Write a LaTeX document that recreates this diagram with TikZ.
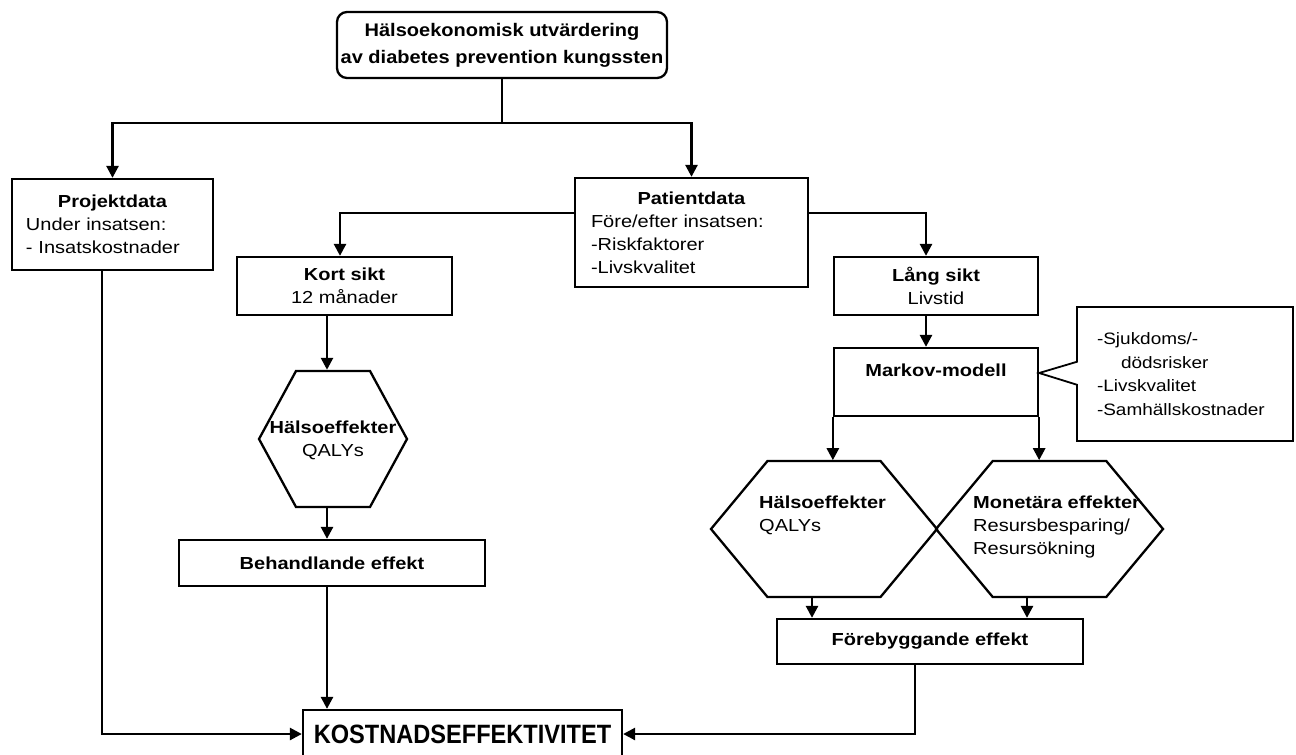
\documentclass[tikz,border=0pt]{standalone}
\usepackage{fontspec}
\setmainfont{Liberation Sans}[FakeStretch=1.15]
\newfontfamily\titlefont{Liberation Sans}[FakeStretch=1.1]
\newfontfamily\bigfont{Liberation Sans}[FakeStretch=0.89]
\usetikzlibrary{arrows.meta,shapes.geometric,shapes.callouts}
\newcommand{\centred}[1]{\hspace*{\fill}#1\hspace*{\fill}\null}
\tikzset{
  box/.style={draw, line width=2.3pt, inner sep=0pt, align=center},
  hexa/.style={draw, line width=2.3pt, regular polygon, regular polygon sides=6, inner sep=0pt, transform shape},
  note/.style={draw, line width=1.8pt, rectangle callout, inner sep=0pt, align=left},
  ln/.style={line width=2.6pt},
  arr/.style={line width=2.6pt, -{Triangle[length=12pt,width=12pt]}}
}
\begin{document}
\begin{tikzpicture}[x=1pt, y=-1pt, font=\fontsize{17.4}{23}\selectfont]
      \useasboundingbox (0,0) rectangle (1296,755);
      \node[box, rounded corners=10pt, minimum width=330pt, minimum height=66pt,
        font=\titlefont\fontsize{18.2}{27}\selectfont\bfseries] (tp) at (502,45)
        {Hälsoekonomisk utvärdering\\av diabetes prevention kungssten};
      \node[box, minimum width=201pt, minimum height=91pt, text width=173pt, align=left] (pj) at (112.5,224.5)
        {\centred{\textbf{Projektdata}}\\Under insatsen:\\- Insatskostnader};
      \node[box, minimum width=233pt, minimum height=109pt, text width=201pt, align=left] (pd) at (691.5,232.5)
        {\centred{\textbf{Patientdata}}\\Före/efter insatsen:\\-Riskfaktorer\\-Livskvalitet};
      \node[box, minimum width=215pt, minimum height=58pt] (ks) at (344.5,286) {\textbf{Kort sikt}\\12 månader};
      \node[box, minimum width=204pt, minimum height=58pt] (lk) at (936,286) {\textbf{Lång sikt}\\Livstid};
      \node[box, minimum width=204pt, minimum height=68pt] (mk) at (936,382) {\textbf{Markov-modell}\\~};
      \node[box, minimum width=306pt, minimum height=46pt] (bh) at (332,563) {\textbf{Behandlande effekt}};
      \node[box, minimum width=306pt, minimum height=45pt] (fe) at (930,641.5) {\textbf{Förebyggande effekt}};
      \node[box, minimum width=319pt, minimum height=48pt,
        font=\bigfont\fontsize{26.5}{30}\selectfont\bfseries] (ko) at (462.5,734) {KOSTNADSEFFEKTIVITET};
      \begin{scope}[shift={(333,439)}]
        \node[hexa, minimum size=148pt, yscale=1.061] (h1) at (0,0) {};
      \end{scope}
      \begin{scope}[shift={(824,529)}]
        \node[hexa, minimum size=226pt, yscale=0.695] (h2) at (0,0) {};
      \end{scope}
      \begin{scope}[shift={(1049.5,529)}]
        \node[hexa, minimum size=227pt, yscale=0.692] (h3) at (0,0) {};
      \end{scope}
      \node[inner sep=0pt, align=center] (h1t) at (333,440.5) {\textbf{Hälsoeffekter}\\QALYs};
      \node[inner sep=0pt, align=left, anchor=west] (h2t) at (759,515.5) {\textbf{Hälsoeffekter}\\QALYs};
      \node[inner sep=0pt, align=left, anchor=west] (h3t) at (973,526.5)
        {\textbf{Monetära effekter}\\Resursbesparing/\\Resursökning};
      \node[note, minimum width=216pt, minimum height=134pt, text width=176pt,
        font=\fontsize{16.5}{23.5}\selectfont,
        callout absolute pointer={([yshift=9pt]mk.east)}, callout pointer width=23pt] (nt) at (1185,374)
        {-Sjukdoms/-\\\hspace*{24pt}dödsrisker\\-Livskvalitet\\-Samhällskostnader};
      \coordinate (split) at (502,123);
      \coordinate (pdrow) at (0,213);
      \coordinate (pcol) at (102,0);
      \coordinate (kcol) at (340,0);
      \coordinate (scol) at (327,0);
      \coordinate (lcol) at (926,0);
      \coordinate (acol) at (812,0);
      \coordinate (bcol) at (1027,0);
      \coordinate (fcol) at (915,0);
      \draw[ln] (tp.south) -- (split);
      \draw[arr] (split) -| (pj);
      \draw[arr] (split) -| (pd);
      \draw[arr] (pd.west |- pdrow) -| (ks.north -| kcol);
      \draw[arr] (pd.east |- pdrow) -| (lk.north -| lcol);
      \draw[arr] (lk.south -| lcol) -- (mk.north -| lcol);
      \draw[arr] (ks.south -| scol) -- (h1.north -| scol);
      \draw[arr] (h1.south -| scol) -- (bh.north -| scol);
      \draw[arr] (bh.south -| scol) -- (ko.north -| scol);
      \draw[arr] (pj.south -| pcol) |- (ko.west);
      \draw[arr] (mk.south west) -- (mk.south west |- h2.north);
      \draw[arr] (mk.south east) -- (mk.south east |- h3.north);
      \draw[arr] (h2.south -| acol) -- (fe.north -| acol);
      \draw[arr] (h3.south -| bcol) -- (fe.north -| bcol);
      \draw[arr] (fe.south -| fcol) |- (ko.east);
    \end{tikzpicture}
\end{document}
